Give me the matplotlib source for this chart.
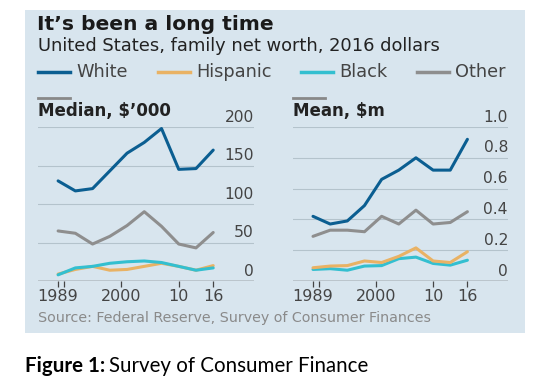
import matplotlib.pyplot as plt
from matplotlib.patches import Rectangle
from matplotlib.lines import Line2D

years = [1989, 1992, 1995, 1998, 2001, 2004, 2007, 2010, 2013, 2016]

# Median net worth, $'000
median_white = [130, 117, 120, 143, 166, 180, 198, 145, 146, 170]
median_hispanic = [9, 15, 19, 14, 15, 19, 23, 19, 14, 20]
median_black = [8, 17, 19, 23, 25, 26, 24, 19, 14, 17]
median_other = [65, 62, 48, 58, 72, 90, 71, 48, 43, 63]

# Mean net worth, $m
mean_white = [0.42, 0.37, 0.39, 0.49, 0.66, 0.72, 0.80, 0.72, 0.72, 0.92]
mean_hispanic = [0.086, 0.097, 0.10, 0.13, 0.12, 0.16, 0.215, 0.13, 0.12, 0.19]
mean_black = [0.075, 0.08, 0.07, 0.097, 0.10, 0.145, 0.155, 0.114, 0.103, 0.135]
mean_other = [0.29, 0.33, 0.33, 0.32, 0.42, 0.37, 0.46, 0.37, 0.38, 0.45]

groups = ["White", "Hispanic", "Black", "Other"]
colors = ["#0b5e91", "#e9b264", "#33bfd0", "#8e8e8e"]

median_ticks = [0, 50, 100, 150, 200]
mean_ticks = [0, 0.2, 0.4, 0.6, 0.8, 1.0]
mean_labels = ["0", "0.2", "0.4", "0.6", "0.8", "1.0"]
x_ticks = [1989, 2000, 2010, 2016]
x_labels = ["1989", "2000", "10", "16"]

W, H = 558, 385
bg = "#d8e5ee"
font = "DejaVu Sans"

fig = plt.figure(figsize=(W / 100, H / 100), dpi=100)
fig.patch.set_facecolor("white")


def fx(px):
    return px / W


def fy(py):
    return 1 - py / H


# panel background
fig.add_artist(Rectangle((fx(25), fy(333)), fx(500), (333 - 10) / H,
                         transform=fig.transFigure, facecolor=bg,
                         edgecolor="none", zorder=-10))

fig.text(fx(37), fy(25), "It\u2019s been a long time", fontsize=14.6,
         fontweight="bold", family=font, color="#1a1a1a", va="center")
fig.text(fx(38), fy(46), "United States, family net worth, 2016 dollars",
         fontsize=12.9, family=font, color="#222222", va="center")

# legend row
leg_pos = [38, 158, 301, 417]
for g, c, px in zip(groups, colors, leg_pos):
    fig.add_artist(Line2D([fx(px), fx(px + 32)], [fy(72), fy(72)],
                          transform=fig.transFigure, color=c, lw=2.5))
    fig.text(fx(px + 38), fy(72), g, fontsize=12.8, family=font,
             color="#444444", va="center")

fig.text(fx(38), fy(318), "Source: Federal Reserve, Survey of Consumer Finances",
         fontsize=10.3, family=font, color="#8a8a8a", va="center")

renderer = fig.canvas.get_renderer()
cap1 = fig.text(fx(25), fy(366), "Figure 1:", fontsize=14.8, fontweight="bold",
                family="Lato", va="center")
bb = cap1.get_window_extent(renderer)
fig.text((bb.x1 + 4) / W, fy(366), "Survey of Consumer Finance",
         fontsize=14.8, family="Lato", va="center")


def panel(left, right, title, ticks, tlabels, series, ymax):
    ax = fig.add_axes([fx(left), fy(281), fx(right - left), (281 - 127) / H])
    ax.set_facecolor("none")
    for vals, c in series:
        ax.plot(years, vals, color=c, lw=2.2, solid_capstyle="round",
                solid_joinstyle="round", zorder=3)
    ax.set_xlim(1985.5, 2023.1)
    ax.set_ylim(0, ymax)
    for t, lab in zip(ticks, tlabels):
        if t > 0:
            ax.axhline(t, color="#b4c3cc", lw=0.8, zorder=1)
        ax.text(1.0, t + ymax * 0.015, lab, transform=ax.get_yaxis_transform(),
                ha="right", va="bottom", fontsize=11.2, family=font,
                color="#444444")
    ax.axhline(0, color="#444444", lw=1.0, zorder=2)
    for s in ax.spines.values():
        s.set_visible(False)
    ax.set_yticks([])
    ax.set_xticks(x_ticks)
    ax.set_xticks([1990], minor=True)
    ax.set_xticklabels(x_labels, fontsize=11.5, family=font, color="#444444")
    ax.tick_params(axis="x", which="both", length=4, width=0.9,
                   color="#444444", pad=2)
    # section header with short bar
    fig.add_artist(Line2D([fx(left), fx(left + 32)], [fy(98), fy(98)],
                          transform=fig.transFigure, color="#888888", lw=2))
    fig.text(fx(left), fy(111), title, fontsize=12, fontweight="bold",
             family=font, color="#222222", va="center")
    return ax


panel(38, 254, "Median, $\u2019000", median_ticks,
      [str(t) for t in median_ticks],
      [(median_other, colors[3]), (median_hispanic, colors[1]),
       (median_black, colors[2]), (median_white, colors[0])], 200)
panel(293, 508, "Mean, $m", mean_ticks, mean_labels,
      [(mean_other, colors[3]), (mean_black, colors[2]),
       (mean_hispanic, colors[1]), (mean_white, colors[0])], 1.0)

fig.savefig("out.png", dpi=100, facecolor="white")
